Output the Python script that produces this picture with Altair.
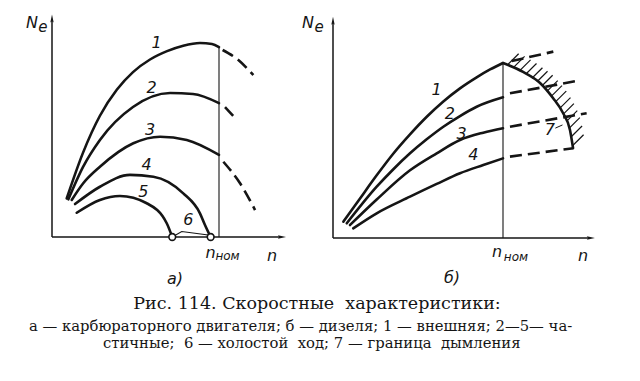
import altair as alt
import pandas as pd

# ---------------- Panel а) carburettor engine -----------------
# n in % of n_nom, Ne in % of the maximum of curve 1
a_c1_n = [8.8, 18.6, 28.7, 38.9, 48.5, 58.7, 68.9, 78.6, 88.6, 95.8, 100.0]
a_c1_ne = [19.9, 43.5, 62.5, 76.0, 85.0, 91.5, 95.8, 98.6, 100.0, 99.5, 97.9]
a_c2_n = [9.8, 18.6, 28.7, 48.5, 70.7, 84.4, 100.0]
a_c2_ne = [19.4, 36.1, 50.0, 67.0, 74.2, 73.7, 69.0]
a_c3_n = [11.8, 18.7, 28.7, 48.7, 64.7, 80.7, 100.0]
a_c3_ne = [19.1, 27.7, 36.2, 48.3, 51.7, 50.0, 42.3]
a_c4_n = [13.8, 28.7, 46.7, 60.7, 78.6, 88.6, 91.6, 95.0]
a_c4_ne = [17.0, 25.9, 32.0, 31.1, 22.5, 12.2, 6.2, 0.0]
a_c5_n = [14.8, 28.7, 40.7, 56.7, 68.7, 72.0]
a_c5_ne = [12.5, 19.1, 21.1, 17.4, 7.1, 0.0]
a_c6_n = [72.0, 77.7, 93.5, 95.0]
a_c6_ne = [0.0, 2.8, 1.0, 0.0]
a_d1_n = [102.2, 111.6, 120.5]
a_d1_ne = [96.4, 91.2, 83.5]
a_d2_n = [103.6, 110.8]
a_d2_ne = [67.0, 60.3]
a_d3_n = [102.6, 112.6, 121.6]
a_d3_ne = [38.8, 27.7, 13.9]
a_idle_n = [72.0, 95.0]
a_idle_ne = [0.0, 0.0]
a_lab_t = ["1", "2", "3", "4", "5", "6"]
a_lab_n = [62.7, 59.7, 58.7, 56.7, 54.7, 81.6]
a_lab_ne = [99.8, 76.6, 55.2, 37.1, 23.4, 8.8]

# ---------------- Panel б) diesel -----------------
b_c1_n = [6.1, 15.9, 25.7, 35.3, 45.3, 55.3, 64.9, 74.7, 84.5, 92.4, 100.0]
b_c1_ne = [9.3, 22.6, 35.8, 48.0, 59.2, 69.4, 78.0, 85.5, 91.8, 96.3, 100.0]
b_c2_n = [8.1, 25.7, 35.5, 45.3, 55.1, 64.9, 74.7, 84.5, 100.0]
b_c2_ne = [8.4, 29.3, 39.3, 48.4, 56.4, 63.6, 69.7, 75.0, 80.4]
b_c3_n = [10.0, 25.7, 45.3, 61.0, 74.7, 88.4, 100.0]
b_c3_ne = [7.4, 22.0, 38.7, 48.4, 56.0, 60.2, 62.7]
b_c4_n = [11.9, 25.7, 45.3, 61.0, 74.7, 88.4, 100.0]
b_c4_ne = [5.5, 14.1, 23.6, 30.9, 37.0, 41.7, 45.5]
b_c7_n = [100.0, 111.8, 121.8, 129.4, 135.3, 139.4, 141.2]
b_c7_ne = [100.0, 94.9, 88.6, 80.0, 71.4, 61.7, 51.4]
b_d1_n = [105.1, 129.6]
b_d1_ne = [101.1, 106.5]
b_d2_n = [104.1, 143.3]
b_d2_ne = [82.7, 89.7]
b_d3_n = [104.1, 149.2]
b_d3_ne = [63.6, 71.3]
b_d4_n = [104.1, 141.4]
b_d4_ne = [46.5, 51.3]
b_hatch_n = [103, 106.5, 110, 113.5, 117, 120, 123, 126, 128.5, 131, 133.5, 135.5, 137.5, 139, 140.3, 141.2]
b_hatch_ne = [99.3, 97.8, 95.8, 93.7, 91.3, 89.3, 87.0, 83.9, 81.1, 77.9, 74.2, 70.8, 66.8, 62.8, 58.0, 53.0]
b_lab_t = ["1", "2", "3", "4", "7"]
b_lab_n = [61.0, 68.8, 75.7, 82.5, 127.6]
b_lab_ne = [84.5, 71.0, 59.5, 47.5, 61.7]

caption_title = "Рис.\u00a0114.\u00a0Скоростные\u00a0\u00a0характеристики:"
caption_l1 = "а — карбюраторного двигателя; б — дизеля; 1 — внешняя; 2—5— ча-"
caption_l2 = "стичные;\u00a0 6 —\u00a0холостой\u00a0 ход; 7 —\u00a0граница\u00a0 дымления"

INK = "#151515"
LFONT = "DejaVu Sans"
CFONT = "DejaVu Serif"


def series_df(series):
    rows = []
    for name, ns, nes in series:
        for i, (a, b) in enumerate(zip(ns, nes)):
            rows.append({"curve": name, "i": i, "n": a, "ne": b})
    return pd.DataFrame(rows)


def make_panel(W, H, ox, oy, ppx, ppy, solid, dashed, thin, labels,
               y_top, x_right, nnom_top, extra_layers_fn=None):
    xdom = [-ox / ppx, (W - ox) / ppx]
    ydom = [-(H - oy) / ppy, oy / ppy]
    X = lambda f="n": alt.X(f + ":Q", scale=alt.Scale(domain=xdom, nice=False, zero=False), axis=None)
    Y = lambda f="ne": alt.Y(f + ":Q", scale=alt.Scale(domain=ydom, nice=False, zero=False), axis=None)

    axes_df = pd.DataFrame({"n": [0, 0], "ne": [0, 0], "n2": [0, x_right], "ne2": [y_top, 0]})
    axes = alt.Chart(axes_df).mark_rule(strokeWidth=1.5, color=INK).encode(
        x=X(), y=Y(), x2="n2:Q", y2="ne2:Q")

    arrow = "M0,-1L0.32,0.55L0,0.3L-0.32,0.55Z"
    up = alt.Chart(pd.DataFrame({"n": [0], "ne": [y_top]})).mark_point(
        shape=arrow, filled=True, color=INK, size=110, opacity=1).encode(x=X(), y=Y())
    right = alt.Chart(pd.DataFrame({"n": [x_right], "ne": [0]})).mark_point(
        shape=arrow, filled=True, color=INK, size=110, angle=90, opacity=1).encode(x=X(), y=Y())

    nnom = alt.Chart(pd.DataFrame({"n": [100], "ne": [0], "ne2": [nnom_top]})).mark_rule(
        strokeWidth=1.1, color=INK).encode(x=X(), y=Y(), y2="ne2:Q")

    solid_l = alt.Chart(series_df(solid)).mark_line(
        interpolate="monotone", strokeWidth=2.6, color=INK, strokeCap="round").encode(
        x=X(), y=Y(), detail="curve:N", order="i:Q")
    dashed_l = alt.Chart(series_df(dashed)).mark_line(
        interpolate="monotone", strokeWidth=2.6, color=INK, strokeDash=[12, 6]).encode(
        x=X(), y=Y(), detail="curve:N", order="i:Q")
    layers = [axes, nnom, solid_l, dashed_l, up, right]
    if thin:
        layers.append(alt.Chart(series_df(thin)).mark_line(
            strokeWidth=1.1, color=INK).encode(x=X(), y=Y(), detail="curve:N", order="i:Q"))
    if extra_layers_fn:
        layers += extra_layers_fn(X, Y)

    lab_df = pd.DataFrame(labels)
    layers.append(alt.Chart(lab_df).mark_text(
        font=LFONT, fontStyle="italic", color=INK, align="center", baseline="middle").encode(
        x=X(), y=Y(), text="t:N", size=alt.Size("fs:Q", scale=None)))
    return alt.layer(*layers).properties(width=W, height=H)


# ---- panel а
WA, WB, HP = 298, 342, 290
a_labels = {
    "t": a_lab_t + ["N", "e", "n", "ном", "n", "а)"],
    "n": a_lab_n + [-12.0, -5.4, 94.9, 105.1, 131.7, 73.7],
    "ne": a_lab_ne + [110.3, 108.2, -8.0, -9.8, -9.8, -21.6],
    "fs": [16] * 6 + [16, 15, 16, 12, 16, 16],
}


def a_extra(X, Y):
    return [alt.Chart(pd.DataFrame({"n": a_idle_n, "ne": a_idle_ne})).mark_point(
        shape="circle", filled=True, fill="white", stroke=INK, strokeWidth=1.6,
        size=45, opacity=1).encode(x=X(), y=Y())]


panel_a = make_panel(
    WA, HP, 52, 237, 1.67, 1.94,
    solid=[("1", a_c1_n, a_c1_ne), ("2", a_c2_n, a_c2_ne), ("3", a_c3_n, a_c3_ne),
           ("4", a_c4_n, a_c4_ne), ("5", a_c5_n, a_c5_ne)],
    dashed=[("1", a_d1_n, a_d1_ne), ("2", a_d2_n, a_d2_ne), ("3", a_d3_n, a_d3_ne)],
    thin=[("6", a_c6_n, a_c6_ne)],
    labels=a_labels, y_top=112.0, x_right=137.0, nnom_top=97.9,
    extra_layers_fn=a_extra)

# ---- panel б
b_labels = {
    "t": b_lab_t + ["N", "e", "n", "ном", "n", "б)"],
    "n": b_lab_n + [-14.7, -8.2, 96.5, 107.6, 147.1, 70.0],
    "ne": b_lab_ne + [122.9, 120.6, -8.0, -10.9, -10.3, -22.9],
    "fs": [16] * 5 + [16, 15, 16, 12, 16, 16],
}


def b_extra(X, Y):
    dn, dne = 6.2, 6.0
    hatch = pd.DataFrame({"n": b_hatch_n, "ne": b_hatch_ne})
    hatch["n2"] = hatch["n"] + dn
    hatch["ne2"] = hatch["ne"] + dne
    h = alt.Chart(hatch).mark_rule(strokeWidth=1.2, color=INK).encode(
        x=X(), y=Y(), x2="n2:Q", y2="ne2:Q")
    lead = alt.Chart(pd.DataFrame({"n": [130.8], "ne": [62.8], "n2": [135.0], "ne2": [64.6]})).mark_rule(
        strokeWidth=1, color=INK).encode(x=X(), y=Y(), x2="n2:Q", y2="ne2:Q")
    return [h, lead]


panel_b = make_panel(
    WB, HP, 35, 238, 1.70, 1.75,
    solid=[("1", b_c1_n, b_c1_ne), ("2", b_c2_n, b_c2_ne), ("3", b_c3_n, b_c3_ne),
           ("4", b_c4_n, b_c4_ne), ("7", b_c7_n, b_c7_ne)],
    dashed=[("1", b_d1_n, b_d1_ne), ("2", b_d2_n, b_d2_ne), ("3", b_d3_n, b_d3_ne),
            ("4", b_d4_n, b_d4_ne)],
    thin=None, labels=b_labels, y_top=123.5, x_right=151.0, nnom_top=100.0,
    extra_layers_fn=b_extra)

# ---- caption
HC = 381 - HP


def cap(text, x, y, size, align):
    return alt.Chart(pd.DataFrame({"t": [text]})).mark_text(
        font=CFONT, fontSize=size, color=INK, align=align, baseline="middle").encode(
        x=alt.value(x), y=alt.value(y), text="t:N")


caption = alt.layer(
    cap(caption_title, 317, 14, 17.5, "center"),
    cap(caption_l1, 29, 37, 14.8, "left"),
    cap(caption_l2, 103, 54, 14.8, "left"),
).properties(width=640, height=HC)

chart = alt.vconcat(
    alt.hconcat(panel_a, panel_b, spacing=0, bounds="flush"),
    caption, spacing=0
).properties(padding=0, background="white").configure_view(stroke=None)

chart.save("out.html", embed_options={"renderer": "svg", "actions": False})
